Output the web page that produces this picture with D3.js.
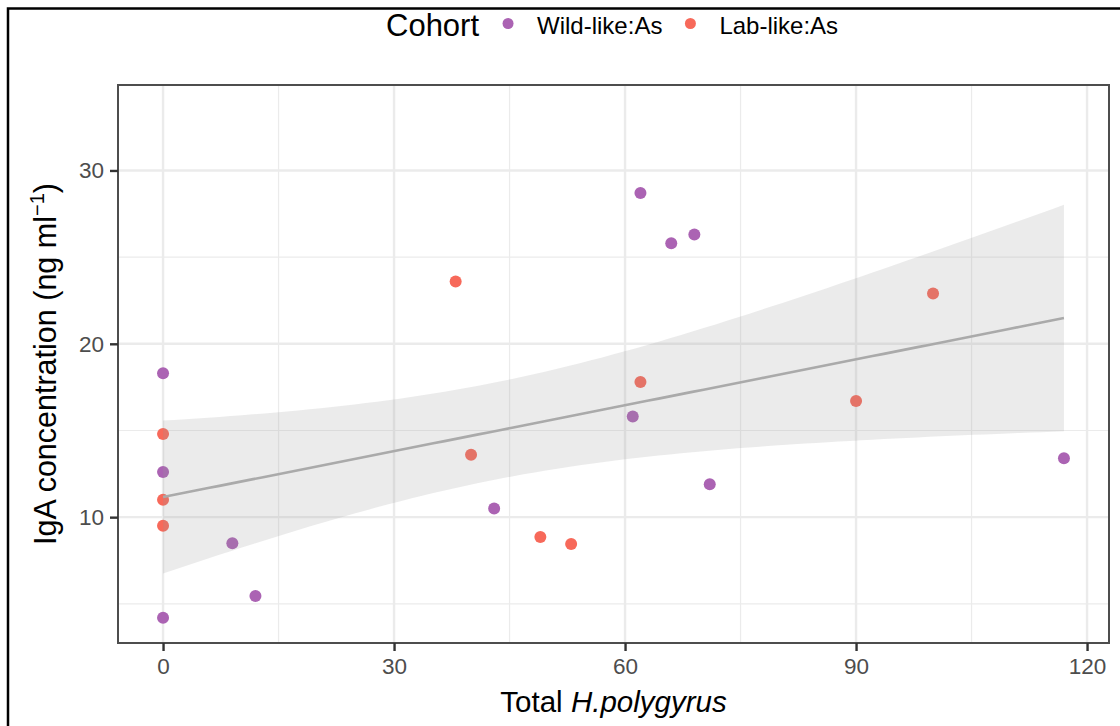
<!DOCTYPE html>
<html>
<head>
<meta charset="utf-8">
<script src="https://cdn.jsdelivr.net/npm/d3@7"></script>
<style>
  body { margin: 0; background: #fff; }
  svg { font-family: "Liberation Sans", Arial, sans-serif; display: block; }
</style>
</head>
<body>
<div id="container"></div>
<script>
"use strict";

const width = 1120;
const height = 726;

const cohorts = ["Wild-like:As", "Lab-like:As"];
const cohortColors = ["#AB63B3", "#F7695A"];

// Total H.polygyrus and IgA
const wildWorms = [0, 0, 0, 9, 12, 43, 61, 62, 66, 69, 71, 117];
const wildIgA = [18.3, 12.6, 4.2, 8.5, 5.45, 10.5, 15.8, 28.7, 25.8, 26.3, 11.9, 13.4];
const labWorms = [0, 0, 0, 38, 40, 49, 53, 62, 90, 100];
const labIgA = [14.8, 11.0, 9.5, 23.6, 13.6, 8.85, 8.45, 17.8, 16.7, 22.9];

const xTicks = [0, 30, 60, 90, 120];
const xMinor = [15, 45, 75, 105];
const yTicks = [10, 20, 30];
const yMinor = [5, 15, 25];

const tCrit = 2.086; // t(0.975, df = 20)

const margin = { top: 85, right: 11, bottom: 83, left: 118 };
const plotW = width - margin.left - margin.right;
const plotH = height - margin.top - margin.bottom;

const points = [];
wildWorms.forEach((w, i) => points.push({ x: w, y: wildIgA[i], c: 0 }));
labWorms.forEach((w, i) => points.push({ x: w, y: labIgA[i], c: 1 }));

// linear fit with 95% confidence band
const n = points.length;
const mx = d3.mean(points, d => d.x);
const my = d3.mean(points, d => d.y);
const sxx = d3.sum(points, d => (d.x - mx) ** 2);
const sxy = d3.sum(points, d => (d.x - mx) * (d.y - my));
const slope = sxy / sxx;
const intercept = my - slope * mx;
const rss = d3.sum(points, d => (d.y - intercept - slope * d.x) ** 2);
const sigma = Math.sqrt(rss / (n - 2));
const [xMin, xMax] = d3.extent(points, d => d.x);
const fit = d3.range(0, 81).map(i => {
  const x = xMin + (xMax - xMin) * i / 80;
  const yhat = intercept + slope * x;
  const se = sigma * Math.sqrt(1 / n + (x - mx) ** 2 / sxx);
  return { x, y: yhat, lo: yhat - tCrit * se, hi: yhat + tCrit * se };
});

const x = d3.scaleLinear().domain([-5.85, 122.85]).range([0, plotW]);
const y = d3.scaleLinear().domain([2.74, 34.93]).range([plotH, 0]);

const svg = d3.select("#container").append("svg")
  .attr("width", width)
  .attr("height", height);

// outer frame
svg.append("rect")
  .attr("x", 8).attr("y", 8.5)
  .attr("width", width).attr("height", height)
  .attr("fill", "none")
  .attr("stroke", "#000")
  .attr("stroke-width", 2.5);

const g = svg.append("g").attr("transform", `translate(${margin.left},${margin.top})`);

// grid
g.selectAll(".xminor").data(xMinor).enter().append("line")
  .attr("x1", d => x(d)).attr("x2", d => x(d))
  .attr("y1", 0).attr("y2", plotH)
  .attr("stroke", "#EBEBEB").attr("stroke-width", 1.2);
g.selectAll(".yminor").data(yMinor).enter().append("line")
  .attr("y1", d => y(d)).attr("y2", d => y(d))
  .attr("x1", 0).attr("x2", plotW)
  .attr("stroke", "#EBEBEB").attr("stroke-width", 1.2);
g.selectAll(".xmajor").data(xTicks).enter().append("line")
  .attr("x1", d => x(d)).attr("x2", d => x(d))
  .attr("y1", 0).attr("y2", plotH)
  .attr("stroke", "#EBEBEB").attr("stroke-width", 2.4);
g.selectAll(".ymajor").data(yTicks).enter().append("line")
  .attr("y1", d => y(d)).attr("y2", d => y(d))
  .attr("x1", 0).attr("x2", plotW)
  .attr("stroke", "#EBEBEB").attr("stroke-width", 2.4);

// points
g.selectAll(".pt").data(points).enter().append("circle")
  .attr("cx", d => x(d.x))
  .attr("cy", d => y(d.y))
  .attr("r", 6)
  .attr("fill", d => cohortColors[d.c]);

// confidence band and fit line
g.append("path")
  .datum(fit)
  .attr("d", d3.area().x(d => x(d.x)).y0(d => y(d.lo)).y1(d => y(d.hi)))
  .attr("fill", "#999999")
  .attr("fill-opacity", 0.2);

g.append("path")
  .datum(fit)
  .attr("d", d3.line().x(d => x(d.x)).y(d => y(d.y)))
  .attr("fill", "none")
  .attr("stroke", "#AAAAAA")
  .attr("stroke-width", 2.6);

// panel border
g.append("rect")
  .attr("width", plotW).attr("height", plotH)
  .attr("fill", "none")
  .attr("stroke", "#4D4D4D")
  .attr("stroke-width", 2);

// axes
const xAxis = g.append("g")
  .attr("transform", `translate(0,${plotH})`)
  .call(d3.axisBottom(x).tickValues(xTicks).tickSize(8).tickPadding(7));
const yAxis = g.append("g")
  .call(d3.axisLeft(y).tickValues(yTicks).tickSize(8).tickPadding(6));

[xAxis, yAxis].forEach(a => {
  a.select(".domain").remove();
  a.selectAll(".tick line").attr("stroke", "#333").attr("stroke-width", 2.4);
  a.selectAll(".tick text")
    .attr("fill", "#4D4D4D")
    .style("font-size", "22.5px")
    .style("font-family", "'Liberation Sans', Arial, sans-serif");
});

// axis titles
const xTitle = svg.append("text")
  .attr("x", margin.left + plotW / 2)
  .attr("y", 712)
  .attr("text-anchor", "middle")
  .style("font-size", "29.5px")
  .attr("fill", "#000");
xTitle.append("tspan").text("Total ");
xTitle.append("tspan").style("font-style", "italic").text("H.polygyrus");

const yTitle = svg.append("text")
  .attr("transform", `translate(56,${margin.top + plotH / 2}) rotate(-90)`)
  .attr("text-anchor", "middle")
  .style("font-size", "30.5px")
  .attr("fill", "#000");
yTitle.append("tspan").text("IgA concentration (ng ml");
yTitle.append("tspan").attr("dy", -12).style("font-size", "20px").text("\u22121");
yTitle.append("tspan").attr("dy", 12).text(")");

// legend
const legendY = 25;
const legend = svg.append("g");
const title = legend.append("text")
  .attr("x", 386).attr("y", legendY)
  .attr("dominant-baseline", "central")
  .style("font-size", "31px")
  .text("Cohort");
let cursor = 386 + title.node().getComputedTextLength() + 29;
cohorts.forEach((c, i) => {
  legend.append("circle")
    .attr("cx", cursor).attr("cy", legendY - 1.5)
    .attr("r", 5.5)
    .attr("fill", cohortColors[i]);
  const t = legend.append("text")
    .attr("x", cursor + 29).attr("y", legendY)
    .attr("dominant-baseline", "central")
    .style("font-size", "24px")
    .text(c);
  cursor += 29 + t.node().getComputedTextLength() + 28;
});
</script>
</body>
</html>
